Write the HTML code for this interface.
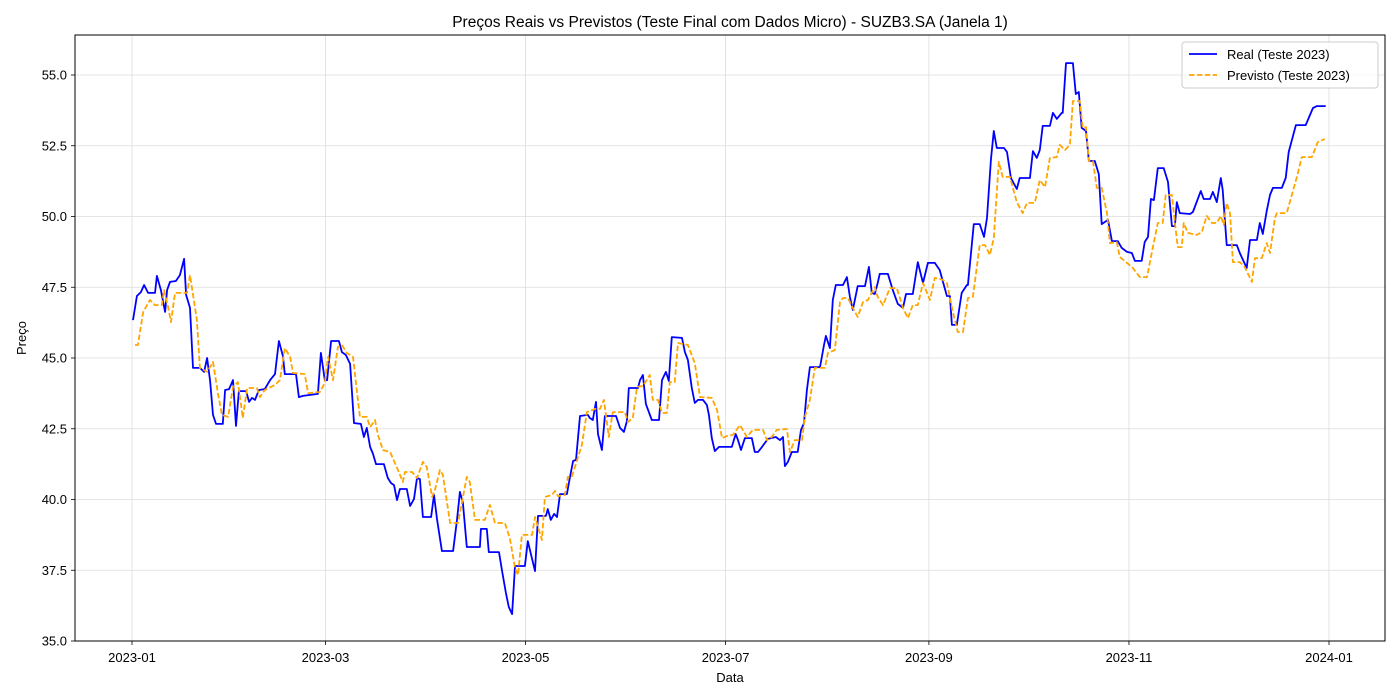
<!DOCTYPE html>
<html><head><meta charset="utf-8">
<style>
html,body{margin:0;padding:0;background:#fff;}
svg{display:block;font-family:"Liberation Sans","DejaVu Sans",sans-serif;}
</style></head>
<body>
<svg id="chart" width="1400" height="700" viewBox="0 0 1400 700">
<rect width="1400" height="700" fill="#fff"/>
<text x="730" y="27" font-size="15.5" text-anchor="middle" fill="#000">Preços Reais vs Previstos (Teste Final com Dados Micro) - SUZB3.SA (Janela 1)</text>
<g id="grid"></g>
<g id="series"></g>
<rect x="75" y="35" width="1310" height="606" fill="none" stroke="#000" stroke-width="1"/>
<g id="axes"></g>
<text x="730" y="682" font-size="13" text-anchor="middle">Data</text>
<text x="26" y="338" font-size="13" text-anchor="middle" transform="rotate(-90 26 338)">Preço</text>
<g>
<rect x="1182" y="42" width="196" height="46" rx="3" fill="#fff" fill-opacity="0.8" stroke="#ccc"/>
<line x1="1189" y1="54" x2="1217" y2="54" stroke="#0000ff" stroke-width="1.8"/>
<text x="1227" y="59" font-size="13">Real (Teste 2023)</text>
<line x1="1189" y1="75" x2="1217" y2="75" stroke="#ffa500" stroke-width="1.8" stroke-dasharray="5.5,2.4"/>
<text x="1227" y="80" font-size="13">Previsto (Teste 2023)</text>
</g>
</svg>
<script>
const yTicks = [35.0,37.5,40.0,42.5,45.0,47.5,50.0,52.5,55.0];
const xTickDays = [0,59,120,181,243,304,365];
const xTickLabels = ["2023-01","2023-03","2023-05","2023-07","2023-09","2023-11","2024-01"];
const realDays = [0.3,1.5,2.7,3.7,4.9,7.0,7.6,8.8,10.1,10.7,11.6,13.4,14.6,15.9,16.5,17.7,18.6,20.7,22.0,22.9,23.8,24.7,25.6,27.7,28.4,29.6,30.8,31.7,32.6,34.8,35.7,36.6,37.5,38.7,40.5,42.1,43.6,44.8,46.0,46.6,50.0,50.9,52.1,56.7,57.6,58.8,59.5,60.7,63.1,64.0,65.2,66.5,67.7,69.8,70.7,71.6,72.6,73.5,74.4,76.8,78.0,79.0,79.9,80.8,81.7,83.8,84.8,86.0,86.9,87.8,88.7,91.2,92.1,93.0,93.9,94.5,97.9,99.1,100.0,100.9,102.1,106.1,106.4,108.2,108.8,111.9,112.8,114.0,114.9,115.9,116.8,119.8,120.7,122.9,123.8,126.2,126.8,127.7,128.7,129.6,130.5,132.6,133.5,134.5,135.4,136.6,139.0,139.6,140.5,141.5,142.1,143.3,144.2,147.6,148.8,150.0,150.9,151.5,154.3,154.9,155.8,156.7,158.5,160.7,161.6,162.8,163.7,164.6,167.7,168.6,169.5,170.7,171.6,172.6,174.1,175.3,175.9,176.8,177.7,179.0,182.9,184.1,184.8,185.7,186.9,189.0,189.9,190.9,192.1,193.9,196.3,197.6,198.5,199.1,200.0,201.2,203.0,204.0,204.9,205.8,206.7,209.8,211.0,211.6,212.8,213.7,214.6,216.8,218.0,218.9,219.8,221.3,223.5,224.7,225.6,226.5,227.4,228.0,230.5,232.0,233.5,235.1,236.0,238.1,239.6,241.2,242.7,244.8,246.3,248.5,249.4,250.0,251.5,253.0,254.6,254.9,256.7,258.5,259.8,260.7,261.9,262.8,263.7,265.9,266.8,268.0,269.8,270.7,273.2,273.8,274.7,275.9,276.8,277.7,279.9,280.8,282.0,283.5,283.8,284.8,286.9,287.8,288.7,289.6,290.9,291.8,293.6,294.8,295.7,297.6,298.8,300.6,301.8,303.4,304.9,305.8,307.9,308.8,309.8,310.7,311.6,312.8,314.6,315.9,317.1,318.0,318.6,319.5,322.6,323.5,325.9,326.8,328.7,329.6,330.8,332.0,332.6,333.8,336.9,337.8,339.9,340.9,343.0,343.9,344.8,346.0,347.0,347.9,350.6,351.8,352.7,354.9,357.9,360.1,361.3,364.0];
const realVals = [46.34,47.19,47.33,47.58,47.30,47.30,47.90,47.40,46.63,47.40,47.69,47.72,47.93,48.50,47.23,46.77,44.65,44.65,44.51,45.00,44.19,42.99,42.67,42.67,43.87,43.90,44.22,42.60,43.83,43.83,43.45,43.59,43.52,43.87,43.90,44.22,44.43,45.60,45.07,44.43,44.43,43.62,43.66,43.73,45.18,44.22,44.22,45.60,45.60,45.21,45.11,44.79,42.70,42.67,42.21,42.53,41.86,41.61,41.25,41.25,40.76,40.58,40.51,39.98,40.37,40.37,39.77,40.02,40.76,40.72,39.38,39.38,40.16,39.31,38.64,38.18,38.18,39.28,40.27,39.88,38.32,38.32,38.96,38.96,38.14,38.14,37.51,36.70,36.20,35.95,37.65,37.65,38.53,37.47,39.42,39.42,39.66,39.28,39.49,39.38,40.19,40.19,40.76,41.36,41.40,42.95,42.99,42.88,42.81,43.45,42.31,41.75,42.95,42.95,42.53,42.39,42.77,43.94,43.94,44.22,44.40,43.37,42.81,42.81,44.22,44.51,44.19,45.74,45.71,45.21,44.93,43.94,43.41,43.52,43.52,43.34,42.99,42.17,41.71,41.86,41.86,42.31,42.10,41.75,42.17,42.17,41.68,41.68,41.86,42.14,42.21,42.10,42.21,41.18,41.33,41.68,41.68,42.46,42.70,43.87,44.68,44.68,45.46,45.78,45.35,47.05,47.58,47.58,47.86,47.16,46.70,47.54,47.54,48.22,47.30,47.26,47.65,47.97,47.97,47.40,46.91,46.77,47.26,47.26,48.39,47.65,48.36,48.36,48.11,47.19,47.19,46.17,46.17,47.30,47.58,47.58,49.73,49.73,49.28,49.95,52.00,53.02,52.42,52.42,52.28,51.36,50.97,51.36,51.36,51.36,52.31,52.07,52.35,53.20,53.20,53.66,53.45,53.66,53.66,55.42,55.42,54.33,54.40,53.13,53.02,51.96,51.96,51.50,49.73,49.88,49.13,49.13,48.89,48.75,48.71,48.43,48.43,49.10,49.28,50.62,50.58,51.71,51.71,51.22,49.66,49.66,50.51,50.12,50.09,50.16,50.90,50.62,50.62,50.87,50.51,51.36,50.94,48.99,48.99,48.71,48.18,49.17,49.17,49.77,49.38,50.19,50.76,51.01,51.01,51.36,52.28,53.23,53.23,53.83,53.90,53.90];
const predDays = [0.9,1.8,3.4,5.5,7.0,9.1,9.8,11.0,11.9,13.1,16.8,17.7,19.8,20.7,22.9,24.7,26.2,27.4,29.3,30.8,32.3,33.8,35.1,38.1,39.0,40.5,43.6,45.1,46.6,48.2,49.1,52.7,53.7,57.3,58.8,59.8,61.3,62.8,64.0,65.5,67.4,69.5,71.6,72.6,74.1,75.0,76.5,78.7,81.1,82.6,83.2,85.4,86.9,88.7,89.9,91.5,92.4,93.9,94.8,97.0,99.4,102.1,103.0,104.6,107.6,109.1,110.7,113.7,115.2,116.8,117.7,118.9,122.0,122.9,125.0,125.9,128.0,129.0,129.9,132.0,132.9,134.1,137.2,138.7,141.2,142.7,143.9,145.4,146.6,150.3,151.2,152.7,154.0,155.8,157.9,158.8,160.4,161.6,163.1,164.0,165.5,166.5,169.5,171.6,173.2,176.8,178.4,179.9,181.4,183.2,185.4,187.5,189.3,192.4,193.6,195.1,196.6,199.7,200.6,202.1,204.3,205.2,206.7,208.2,211.3,212.2,214.3,215.9,216.8,218.3,219.8,221.3,222.9,224.4,226.5,227.4,229.0,231.1,233.2,235.1,236.6,238.1,239.6,241.2,243.3,244.8,247.3,248.5,250.3,251.8,253.4,254.9,256.4,258.5,260.1,261.6,262.8,264.3,265.5,267.7,269.8,271.6,272.9,275.3,276.8,278.4,279.9,282.0,282.9,284.5,286.0,286.9,289.0,289.9,290.9,291.8,293.0,294.2,295.7,297.3,298.2,300.3,301.2,303.4,305.2,307.3,309.5,311.3,312.8,314.3,315.2,317.1,318.0,318.9,320.1,320.7,322.0,324.7,326.2,327.7,329.3,330.8,332.0,332.9,333.8,334.8,335.7,337.8,339.3,341.5,342.4,344.5,346.0,347.0,348.5,349.1,352.1,353.0,355.2,356.7,359.8,361.6,363.7];
const predVals = [45.46,45.46,46.63,47.05,46.87,46.87,47.40,46.80,46.27,47.30,47.30,47.93,46.34,44.65,44.51,44.86,43.76,42.99,42.92,43.98,44.15,42.88,43.94,43.94,43.62,43.87,44.05,44.22,45.35,45.04,44.47,44.43,43.76,43.80,44.12,45.04,44.22,45.39,45.46,45.18,45.04,42.92,42.92,42.56,42.81,42.28,41.75,41.68,41.04,40.62,40.97,40.97,40.76,41.33,41.15,40.09,40.34,41.04,40.87,39.17,39.17,40.80,40.62,39.28,39.28,39.81,39.17,39.17,38.64,37.58,37.33,38.75,38.75,39.38,38.57,40.09,40.16,40.30,40.12,40.16,40.80,40.80,41.93,43.09,43.20,43.20,43.52,42.21,43.09,43.09,42.74,42.88,43.98,44.01,44.40,43.52,43.52,43.06,43.06,44.15,44.15,45.53,45.46,44.82,43.62,43.59,43.16,42.17,42.24,42.28,42.63,42.21,42.46,42.46,42.10,42.21,42.46,42.49,41.68,42.10,42.10,42.92,43.52,44.65,44.65,45.18,45.28,46.98,47.12,47.12,46.77,46.45,46.98,47.05,47.51,47.16,46.87,47.47,47.47,46.77,46.41,46.87,46.87,47.65,47.05,47.83,47.76,47.65,46.63,45.92,45.92,47.12,47.16,48.99,48.99,48.64,49.24,51.93,51.40,51.40,50.51,50.12,50.48,50.48,51.29,51.04,52.07,52.10,52.53,52.35,52.53,54.08,54.08,53.13,53.16,51.96,51.96,51.01,51.01,50.12,49.06,49.10,48.57,48.36,48.18,47.86,47.86,48.92,49.77,49.77,50.76,50.76,49.77,48.92,48.92,49.77,49.42,49.35,49.45,50.02,49.77,49.77,50.02,49.70,50.48,50.12,48.39,48.39,48.22,47.69,48.53,48.53,49.06,48.71,49.95,50.12,50.12,50.48,51.40,52.10,52.10,52.63,52.74];

const NS = "http://www.w3.org/2000/svg";
function xScale(d){ return 132 + d * (1197/365); }
function yScale(v){ return 641 - (v - 35) * (566/20); }
function mk(tag, attrs, parent){
  const el = document.createElementNS(NS, tag);
  for (const k in attrs) el.setAttribute(k, attrs[k]);
  parent.appendChild(el);
  return el;
}
const grid = document.getElementById('grid');
const axes = document.getElementById('axes');
const series = document.getElementById('series');

yTicks.forEach(function(t){
  const y = yScale(t);
  const gl = mk('line', {x1:75, x2:1385, y1:y, y2:y, stroke:'#dcdcdc', 'stroke-width':0.8}, grid);
  
  
  const tk = mk('line', {x1:71, x2:75, y1:y, y2:y, stroke:'#000', 'stroke-width':0.8}, axes);
  
  
  const lb = mk('text', {x:67, y:y+4.5, 'font-size':13, 'text-anchor':'end'}, axes);
  lb.textContent = t.toFixed(1);
  
  
});
xTickDays.forEach(function(d, i){
  const x = xScale(d);
  const gl = mk('line', {x1:x, x2:x, y1:35, y2:641, stroke:'#dcdcdc', 'stroke-width':0.8}, grid);
  
  
  const tk = mk('line', {x1:x, x2:x, y1:641, y2:645, stroke:'#000', 'stroke-width':0.8}, axes);
  
  
  const lb = mk('text', {x:x, y:662, 'font-size':13, 'text-anchor':'middle'}, axes);
  lb.textContent = xTickLabels[i];
  
  
});
function pathFrom(days, vals){
  const n = Math.min(days.length, vals.length);
  let s = '';
  for (let i = 0; i < n; i++) s += (i ? 'L' : 'M') + xScale(days[i]).toFixed(1) + ',' + yScale(vals[i]).toFixed(1);
  return s;
}
const realLine = mk('path', {d:pathFrom(realDays, realVals), fill:'none', stroke:'#0000ff', 'stroke-width':1.8, 'stroke-linejoin':'round'}, series);


const predLine = mk('path', {d:pathFrom(predDays, predVals), fill:'none', stroke:'#ffa500', 'stroke-width':1.8, 'stroke-dasharray':'5.5,2.4', 'stroke-linejoin':'round'}, series);


</script>
</body></html>
